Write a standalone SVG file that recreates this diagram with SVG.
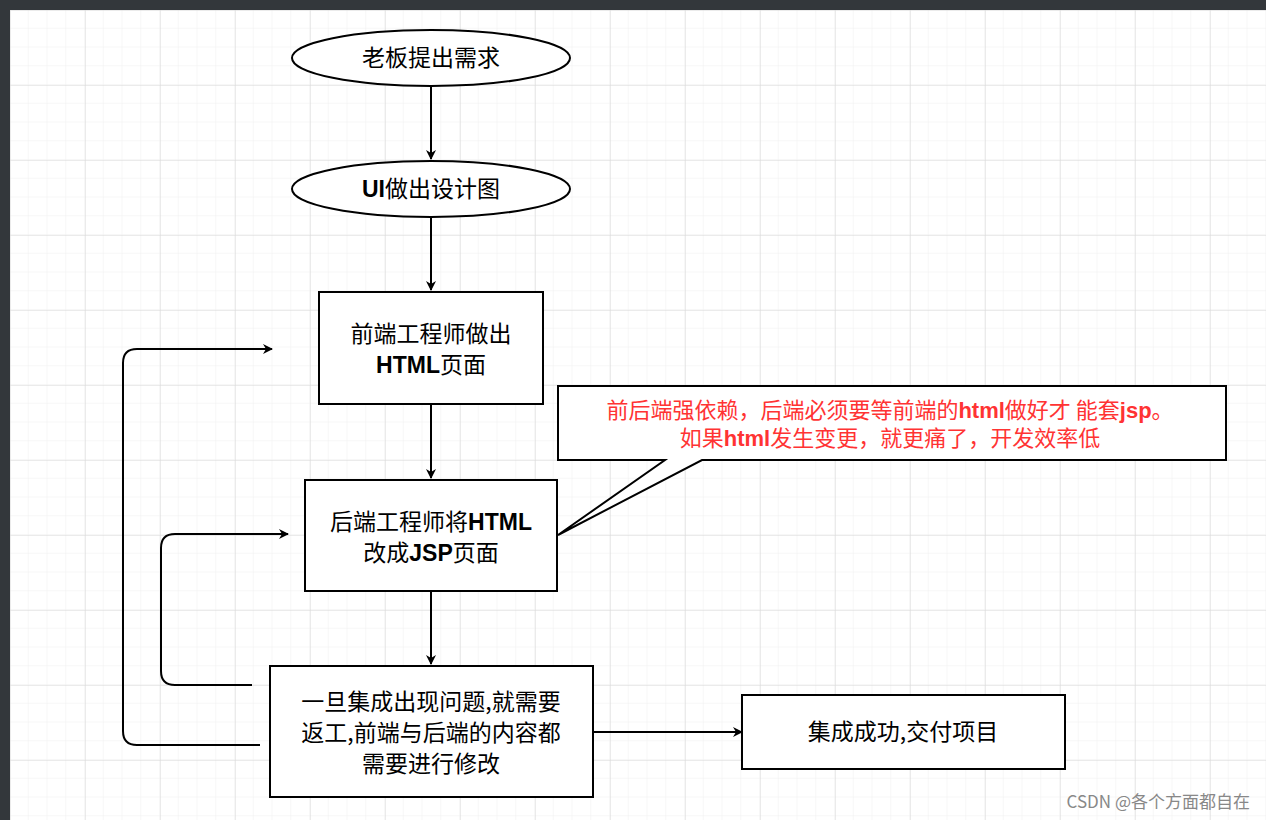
<svg xmlns="http://www.w3.org/2000/svg" width="1266" height="820" viewBox="0 0 1266 820">
<defs>
<pattern id="minor" x="10" y="10" width="18.75" height="18.75" patternUnits="userSpaceOnUse"><path d="M18.75 0V18.75H0" fill="none" stroke="#f0f0f0" stroke-width="1"/></pattern>
<pattern id="major" x="10" y="10" width="75" height="75" patternUnits="userSpaceOnUse"><path d="M0 0V75M0 0H75" fill="none" stroke="#d8d8d8" stroke-width="1"/></pattern>
<marker id="arr" markerWidth="10" markerHeight="10" refX="9" refY="5" orient="auto" markerUnits="userSpaceOnUse"><path d="M0 0L10 5L0 10L3 5Z" fill="#000"/></marker>
</defs>
<style>
.n{fill:#fff;stroke:#000;stroke-width:2}
.t{font-family:"Noto Sans CJK SC",sans-serif;font-size:23px;fill:#000;text-anchor:middle}
.b{font-family:"Liberation Sans",sans-serif;font-weight:bold}
.r{fill:#ff3333;font-size:22px}
.c{fill:none;stroke:#000;stroke-width:2;marker-end:url(#arr)}
</style>
<rect width="1266" height="820" fill="#fff"/>
<rect width="1266" height="820" fill="url(#minor)"/>
<rect width="1266" height="820" fill="url(#major)"/>
<rect width="1266" height="10" fill="#33373b"/>
<rect width="10" height="820" fill="#33373b"/>
<g id="connectors">
<path class="c" d="M431 87V159"/>
<path class="c" d="M431 217V290"/>
<path class="c" d="M431 405V478"/>
<path class="c" d="M431 592V664"/>
<path class="c" d="M593 732H742"/>
<path class="c" d="M252 685H175Q161 685 161 671V548Q161 534 175 534H288"/>
<path class="c" d="M260 745H137Q123 745 123 731V363Q123 349 137 349H272"/>
</g>
<g id="n1"><ellipse class="n" cx="431" cy="58" rx="139" ry="28"/><text class="t" x="431" y="66">老板提出需求</text></g>
<g id="n2"><ellipse class="n" cx="431" cy="189" rx="139" ry="28"/><text class="t" x="431" y="197"><tspan class="b">UI</tspan>做出设计图</text></g>
<g id="n3"><rect class="n" x="319" y="292" width="224" height="112"/><text class="t" x="431" y="342">前端工程师做出</text><text class="t" x="431" y="373"><tspan class="b">HTML</tspan>页面</text></g>
<g id="n4"><rect class="n" x="305" y="480" width="252" height="111"/><text class="t" x="431" y="530">后端工程师将<tspan class="b">HTML</tspan></text><text class="t" x="431" y="561">改成<tspan class="b">JSP</tspan>页面</text></g>
<g id="n5"><rect class="n" x="270" y="666" width="323" height="131"/><text class="t" x="431" y="710">一旦集成出现问题,就需要</text><text class="t" x="431" y="741">返工,前端与后端的内容都</text><text class="t" x="431" y="772">需要进行修改</text></g>
<g id="n6"><rect class="n" x="742" y="695" width="323" height="74"/><text class="t" x="903" y="740">集成成功,交付项目</text></g>
<g id="callout"><path class="n" d="M558 386H1226V460H702L558 535L665 460H558Z"/><text class="t r" x="890" y="418">前后端强依赖，后端必须要等前端的<tspan class="b">html</tspan>做好才 能套<tspan class="b">jsp</tspan>。</text><text class="t r" x="890" y="446">如果<tspan class="b">html</tspan>发生变更，就更痛了，开发效率低</text></g>
<text x="1250" y="808" style="font-family:'Noto Sans CJK SC',sans-serif;font-size:17px;fill:#888;text-anchor:end">CSDN @各个方面都自在</text>
</svg>
